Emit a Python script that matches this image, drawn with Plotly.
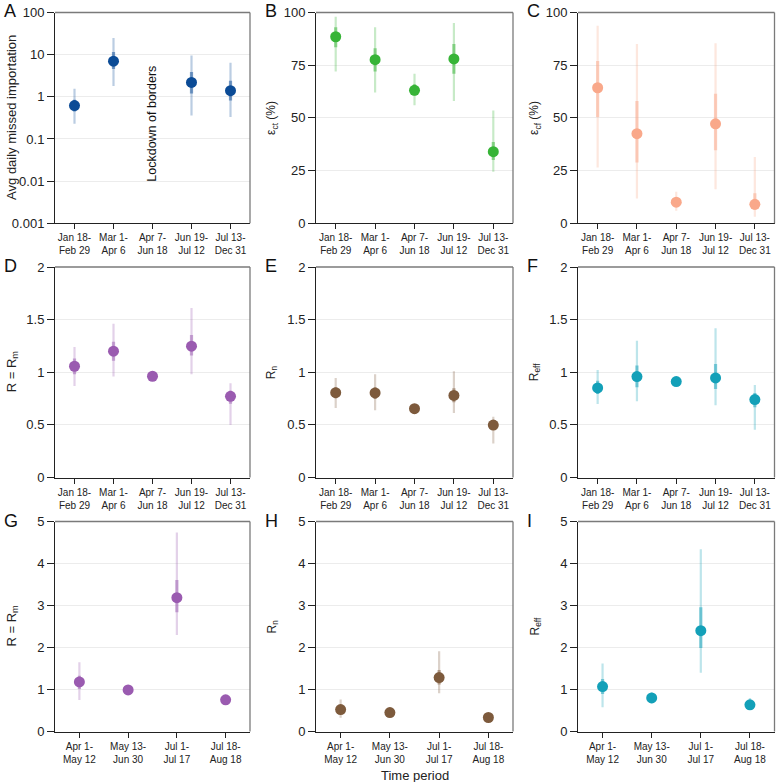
import plotly.graph_objects as go

W, H = 777, 782

# ---------------- data ----------------
periods5 = ["Jan 18-<br>Feb 29", "Mar 1-<br>Apr 6", "Apr 7-<br>Jun 18", "Jun 19-<br>Jul 12", "Jul 13-<br>Dec 31"]
periods4 = ["Apr 1-<br>May 12", "May 13-<br>Jun 30", "Jul 1-<br>Jul 17", "Jul 18-<br>Aug 18"]

# A: avg daily missed importation (period 3 = lockdown, no value)
a_mid = [0.62, 7.0, None, 2.2, 1.4]
a_lo95 = [0.23, 1.8, None, 0.36, 0.33]
a_hi95 = [1.55, 25.0, None, 9.5, 6.4]
a_lo50 = [0.45, 4.6, None, 1.2, 0.82]
a_hi50 = [0.85, 11.5, None, 3.9, 2.4]

# B: eps_ct (%)
b_mid = [88.5, 77.6, 63.1, 78.0, 34.0]
b_lo95 = [72.0, 62.0, 56.0, 58.0, 24.4]
b_hi95 = [98.0, 93.0, 71.0, 95.0, 53.5]
b_lo50 = [83.5, 72.0, 60.6, 71.0, 30.0]
b_hi50 = [93.0, 83.0, 66.0, 85.0, 38.6]

# C: eps_cf (%)
c_mid = [64.3, 42.5, 10.0, 47.2, 9.0]
c_lo95 = [26.5, 11.8, 6.0, 16.2, 3.1]
c_hi95 = [93.7, 85.0, 15.0, 85.4, 31.5]
c_lo50 = [50.4, 28.8, 8.2, 34.6, 6.3]
c_hi50 = [77.0, 58.0, 11.8, 61.4, 14.2]

# D: R = Rm
d_mid = [1.057, 1.20, 0.962, 1.248, 0.771]
d_lo95 = [0.87, 0.96, 0.95, 0.98, 0.50]
d_hi95 = [1.24, 1.46, 0.98, 1.61, 0.895]
d_lo50 = [0.98, 1.11, 0.955, 1.16, 0.70]
d_hi50 = [1.13, 1.29, 0.97, 1.355, 0.825]

# E: Rn
e_mid = [0.806, 0.803, 0.654, 0.78, 0.498]
e_lo95 = [0.66, 0.64, 0.645, 0.613, 0.324]
e_hi95 = [0.946, 0.98, 0.665, 1.01, 0.578]
e_lo50 = [0.752, 0.746, 0.65, 0.714, 0.46]
e_hi50 = [0.857, 0.857, 0.66, 0.848, 0.54]

# F: Reff
f_mid = [0.851, 0.959, 0.911, 0.946, 0.74]
f_lo95 = [0.698, 0.724, 0.867, 0.686, 0.454]
f_hi95 = [1.022, 1.30, 0.95, 1.419, 0.879]
f_lo50 = [0.794, 0.857, 0.89, 0.841, 0.667]
f_hi50 = [0.92, 1.063, 0.93, 1.079, 0.803]

# G: R = Rm (second wave)
g_mid = [1.18, 0.99, 3.185, 0.753]
g_lo95 = [0.75, 0.95, 2.30, 0.66]
g_hi95 = [1.65, 1.03, 4.74, 0.87]
g_lo50 = [1.01, 0.97, 2.84, 0.71]
g_hi50 = [1.33, 1.01, 3.61, 0.80]

# H: Rn (second wave)
h_mid = [0.523, 0.452, 1.284, 0.333]
h_lo95 = [0.325, 0.42, 0.91, 0.31]
h_hi95 = [0.76, 0.49, 1.91, 0.36]
h_lo50 = [0.444, 0.44, 1.117, 0.32]
h_hi50 = [0.618, 0.465, 1.466, 0.345]

# I: Reff (second wave)
i_mid = [1.07, 0.80, 2.40, 0.634]
i_lo95 = [0.578, 0.674, 1.40, 0.515]
i_hi95 = [1.62, 0.935, 4.34, 0.80]
i_lo50 = [0.895, 0.75, 1.989, 0.58]
i_hi50 = [1.25, 0.86, 2.956, 0.70]

# ---------------- styling ----------------
NAVY = (11, 75, 150)
GREEN = (55, 180, 55)
SALMON = (249, 168, 138)
PURPLE = (154, 91, 176)
BROWN = (125, 90, 60)
TEAL = (19, 160, 184)

def rgba(c, a):
    return "rgba(%d,%d,%d,%s)" % (c[0], c[1], c[2], a)

FONT = "Arial, Liberation Sans, Helvetica, sans-serif"

# panel geometry in pixels (left, right, top, bottom)
cols = [(55, 250), (316, 513), (578, 774.5)]
rows = [(12.5, 223.3), (267, 477.5), (521.5, 731.5)]

panels = [
    dict(letter="A", mid=a_mid, lo95=a_lo95, hi95=a_hi95, lo50=a_lo50, hi50=a_hi50, cats=periods5,
         color=NAVY, ylog=True, yrange=[-3, 2], tickvals=[0.001, 0.01, 0.1, 1, 10, 100],
         ticktext=["0.001", "0.01", "0.1", "1", "10", "100"], ytitle="Avg daily missed importation"),
    dict(letter="B", mid=b_mid, lo95=b_lo95, hi95=b_hi95, lo50=b_lo50, hi50=b_hi50, cats=periods5,
         color=GREEN, ylog=False, yrange=[0, 100], tickvals=[0, 25, 50, 75, 100],
         ticktext=["0", "25", "50", "75", "100"], ytitle="ε<sub>ct</sub> (%)"),
    dict(letter="C", mid=c_mid, lo95=c_lo95, hi95=c_hi95, lo50=c_lo50, hi50=c_hi50, cats=periods5,
         color=SALMON, ylog=False, yrange=[0, 100], tickvals=[0, 25, 50, 75, 100],
         ticktext=["0", "25", "50", "75", "100"], ytitle="ε<sub>cf</sub> (%)"),
    dict(letter="D", mid=d_mid, lo95=d_lo95, hi95=d_hi95, lo50=d_lo50, hi50=d_hi50, cats=periods5,
         color=PURPLE, ylog=False, yrange=[0, 2], tickvals=[0, 0.5, 1, 1.5, 2],
         ticktext=["0", "0.5", "1", "1.5", "2"], ytitle="R = R<sub>m</sub>"),
    dict(letter="E", mid=e_mid, lo95=e_lo95, hi95=e_hi95, lo50=e_lo50, hi50=e_hi50, cats=periods5,
         color=BROWN, ylog=False, yrange=[0, 2], tickvals=[0, 0.5, 1, 1.5, 2],
         ticktext=["0", "0.5", "1", "1.5", "2"], ytitle="R<sub>n</sub>"),
    dict(letter="F", mid=f_mid, lo95=f_lo95, hi95=f_hi95, lo50=f_lo50, hi50=f_hi50, cats=periods5,
         color=TEAL, ylog=False, yrange=[0, 2], tickvals=[0, 0.5, 1, 1.5, 2],
         ticktext=["0", "0.5", "1", "1.5", "2"], ytitle="R<sub>eff</sub>"),
    dict(letter="G", mid=g_mid, lo95=g_lo95, hi95=g_hi95, lo50=g_lo50, hi50=g_hi50, cats=periods4,
         color=PURPLE, ylog=False, yrange=[0, 5], tickvals=[0, 1, 2, 3, 4, 5],
         ticktext=["0", "1", "2", "3", "4", "5"], ytitle="R = R<sub>m</sub>"),
    dict(letter="H", mid=h_mid, lo95=h_lo95, hi95=h_hi95, lo50=h_lo50, hi50=h_hi50, cats=periods4,
         color=BROWN, ylog=False, yrange=[0, 5], tickvals=[0, 1, 2, 3, 4, 5],
         ticktext=["0", "1", "2", "3", "4", "5"], ytitle="R<sub>n</sub>"),
    dict(letter="I", mid=i_mid, lo95=i_lo95, hi95=i_hi95, lo50=i_lo50, hi50=i_hi50, cats=periods4,
         color=TEAL, ylog=False, yrange=[0, 5], tickvals=[0, 1, 2, 3, 4, 5],
         ticktext=["0", "1", "2", "3", "4", "5"], ytitle="R<sub>eff</sub>"),
]

ytitle_x = [12, 272, 535]

fig = go.Figure()
layout = dict(width=W, height=H, autosize=False, margin=dict(l=0, r=0, t=0, b=0, pad=0, autoexpand=False),
              paper_bgcolor="white", plot_bgcolor="white", showlegend=False,
              font=dict(family=FONT, color="#222"))
annotations = []
shapes = []

for k, p in enumerate(panels):
    r, c = divmod(k, 3)
    L, R = cols[c]
    T, B = rows[r]
    idx = "" if k == 0 else str(k + 1)
    xa, ya = "x" + idx, "y" + idx
    n = len(p["cats"])
    xs = list(range(1, n + 1))

    keep = [m is not None for m in p["mid"]]
    def filt(vals):
        return [v for v, ok in zip(vals, keep) if ok]
    xv = filt(xs)
    mv = filt(p["mid"])
    lo95, hi95 = filt(p["lo95"]), filt(p["hi95"])
    lo50, hi50 = filt(p["lo50"]), filt(p["hi50"])

    # outer interval
    fig.add_trace(go.Scatter(
        x=xv, y=mv, mode="markers", marker=dict(size=1, opacity=0),
        error_y=dict(type="data", symmetric=False,
                     array=[h - m for h, m in zip(hi95, mv)],
                     arrayminus=[m - l for l, m in zip(lo95, mv)],
                     color=rgba(p["color"], 0.28), thickness=2.2, width=0),
        xaxis=xa, yaxis=ya, hoverinfo="skip"))
    # inner interval
    fig.add_trace(go.Scatter(
        x=xv, y=mv, mode="markers", marker=dict(size=1, opacity=0),
        error_y=dict(type="data", symmetric=False,
                     array=[h - m for h, m in zip(hi50, mv)],
                     arrayminus=[m - l for l, m in zip(lo50, mv)],
                     color=rgba(p["color"], 0.5), thickness=3.2, width=0),
        xaxis=xa, yaxis=ya, hoverinfo="skip"))
    # points
    fig.add_trace(go.Scatter(
        x=xv, y=mv, mode="markers",
        marker=dict(size=11, color=rgba(p["color"], 1), line=dict(width=0)),
        xaxis=xa, yaxis=ya))

    xdom = [L / W, R / W]
    ydom = [1 - B / H, 1 - T / H]
    xkey = "xaxis" + idx
    ykey = "yaxis" + idx
    layout[xkey] = dict(domain=xdom, anchor=ya, range=[0.5, n + 0.5], automargin=False,
                        tickmode="array", tickvals=xs, ticktext=p["cats"],
                        ticks="outside", ticklen=5, tickwidth=1, tickcolor="#222",
                        showline=True, linecolor="#222", linewidth=1, mirror=False,
                        showgrid=False, zeroline=False, fixedrange=True,
                        tickfont=dict(family=FONT, size=10, color="#222"))
    yax = dict(domain=ydom, anchor=xa, range=p["yrange"], automargin=False,
               tickmode="array", tickvals=p["tickvals"], ticktext=p["ticktext"],
               ticks="outside", ticklen=7, tickwidth=1, tickcolor="#222",
               showline=True, linecolor="#222", linewidth=1, mirror=False,
               showgrid=True, gridcolor="#ececec", gridwidth=1, zeroline=False,
               fixedrange=True, tickfont=dict(family=FONT, size=13, color="#222"))
    if p["ylog"]:
        yax["type"] = "log"
    layout[ykey] = yax

    # top and right frame lines (gray)
    shapes.append(dict(type="line", xref=xa + " domain", yref=ya + " domain",
                       x0=0, x1=1, y0=1, y1=1, line=dict(color="#7a7a7a", width=1.3)))
    shapes.append(dict(type="line", xref=xa + " domain", yref=ya + " domain",
                       x0=1, x1=1, y0=0, y1=1, line=dict(color="#7a7a7a", width=1.3)))

    # panel letter
    annotations.append(dict(text=p["letter"], xref="paper", yref="paper",
                            x=(L - 53) / W, y=1 - (T - 1) / H, xanchor="left", yanchor="middle",
                            showarrow=False, font=dict(family=FONT, size=18, color="#111")))
    # y title
    annotations.append(dict(text=p["ytitle"], xref="paper", yref="paper",
                            x=ytitle_x[c] / W, y=1 - ((T + B) / 2) / H,
                            xanchor="center", yanchor="middle", textangle=-90,
                            showarrow=False, font=dict(family=FONT, size=13 if c == 0 else 12, color="#222")))

# lockdown annotation in panel A
annotations.append(dict(text="Lockdown of borders", xref="x", yref="y",
                        x=3, y=-0.65, textangle=-90, showarrow=False,
                        font=dict(family=FONT, size=12.5, color="#111")))
# x-axis title under panel H
annotations.append(dict(text="Time period", xref="paper", yref="paper",
                        x=((cols[1][0] + cols[1][1]) / 2) / W, y=1 - 775 / H,
                        xanchor="center", yanchor="middle", showarrow=False,
                        font=dict(family=FONT, size=13, color="#222")))

layout["annotations"] = annotations
layout["shapes"] = shapes
fig.update_layout(**layout)
fig.write_html("out.html", config={"displayModeBar": False},
               post_script="document.body.style.margin='0';document.body.style.overflow='hidden';")
